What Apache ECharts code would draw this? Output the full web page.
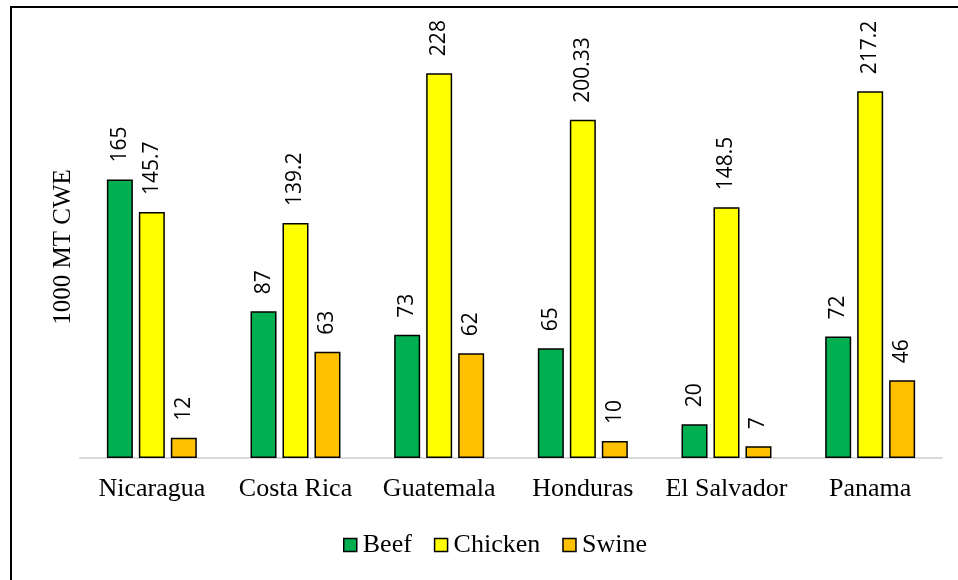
<!DOCTYPE html>
<html>
<head>
<meta charset="utf-8">
<script src="https://cdn.jsdelivr.net/npm/echarts@6/dist/echarts.min.js"></script>
<style>
  html, body { margin: 0; padding: 0; background: #fff; }
  #chart { width: 958px; height: 580px; }
</style>
</head>
<body>
<div id="chart"></div>
<script>
// Meat production by country (1000 MT CWE)
const countries = ['Nicaragua', 'Costa Rica', 'Guatemala', 'Honduras', 'El Salvador', 'Panama'];
const beef = [165, 87, 73, 65, 20, 72];
const chicken = [145.7, 139.2, 228, 200.33, 148.5, 217.2];
const swine = [12, 63, 62, 10, 7, 46];

const serif = '"Liberation Serif", "DejaVu Serif", serif';
const sans = '"Open Sans", "Noto Sans", sans-serif';

const chart = echarts.init(document.getElementById('chart'));

const barLabel = {
  show: true,
  position: 'top',
  rotate: 90,
  align: 'left',
  verticalAlign: 'middle',
  distance: 17,
  color: '#000',
  fontFamily: sans,
  fontSize: 21
};

function makeSeries(name, data, color) {
  return {
    name: name,
    type: 'bar',
    data: data,
    barWidth: 26,
    barGap: '23%',
    itemStyle: { color: color, borderColor: '#000', borderWidth: 1.5 },
    label: barLabel
  };
}

const option = {
  animation: false,
  graphic: [{
    type: 'rect',
    shape: { x: 11, y: 7, width: 960, height: 600 },
    style: { fill: 'none', stroke: '#000', lineWidth: 2 },
    silent: true
  }],
  grid: { left: 80, right: 16, top: 36, bottom: 122 },
  legend: {
    bottom: 17,
    left: 338,
    itemWidth: 13,
    itemHeight: 13,
    itemGap: 22,
    icon: 'rect',
    itemStyle: { borderColor: '#000', borderWidth: 1.5 },
    textStyle: { fontFamily: serif, fontSize: 26, color: '#000', padding: [0, 0, 0, 1] },
    data: ['Beef', 'Chicken', 'Swine']
  },
  xAxis: {
    type: 'category',
    data: countries,
    axisLine: { lineStyle: { color: '#d9d9d9', width: 2 } },
    axisTick: { show: false },
    axisLabel: { interval: 0, fontFamily: serif, fontSize: 26, color: '#000', margin: 18 }
  },
  yAxis: {
    type: 'value',
    min: 0,
    max: 250,
    name: '1000 MT CWE',
    nameLocation: 'middle',
    nameGap: 4,
    nameTextStyle: { fontFamily: serif, fontSize: 25, color: '#000' },
    axisLine: { show: false },
    axisTick: { show: false },
    axisLabel: { show: false },
    splitLine: { show: false }
  },
  series: [
    makeSeries('Beef', beef, '#00b050'),
    makeSeries('Chicken', chicken, '#ffff00'),
    makeSeries('Swine', swine, '#ffc000')
  ]
};

chart.setOption(option);
</script>
</body>
</html>
